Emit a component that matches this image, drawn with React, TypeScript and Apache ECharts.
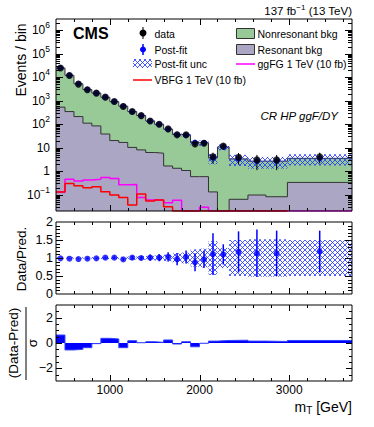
import React, { useEffect, useRef } from "react";
import * as echarts from "echarts";

const FONT = "'Liberation Sans', Arial, Helvetica, sans-serif";

// ---------- data ----------
const binEdges = [400, 500, 600, 700, 800, 900, 1000, 1100, 1200, 1300, 1400, 1500, 1600, 1700, 1800, 1900, 2000, 2100, 2200, 2330, 2540, 2740, 2980, 3700];
const dataCounts = [24400, 11800, 5060, 2890, 2090, 1410, 916, 560, 343, 231, 137, 99, 63, 35, 35, 14.4, 15.4, 4.1, 11.8, 3.9, 3.0, 3.0, 4.1];
const dataErr = [156, 109, 71, 54, 46, 38, 30, 24, 18.5, 15, 11.7, 10, 8, 6, 6, 3.8, 3.9, 2, 3.4, 2, 1.9, 1.9, 2];
const totalPred = [24600, 12000, 5200, 2950, 2110, 1400, 907, 583, 340, 231, 136, 98, 61, 36, 34, 16.4, 16, 3.7, 10.7, 3.3, 2.65, 2.65, 3.5];
const resonantBkg = [528, 343, 210, 110, 84, 38, 20, 16.6, 10.2, 8, 6.2, 5.8, 1.65, 1.32, 1.06, 0.58, 0.58, 0.13, 0, 0.063, 0.096, 0.081, 0.33];
const ggfSignal = [0.13, 0.45, 0.38, 0.42, 0.45, 0.54, 0.49, 0.26, 0.27, 0.076, 0.059, 0.059, 0.045, 0.058, 0, 0, 0.029, 0, 0, 0, 0, 0, 0];
const vbfSignal: (number | null)[] = [0.13, 0.3, 0.24, 0.196, 0.216, 0.132, 0.096, 0.076, 0.036, 0.106, 0.053, 0.059, 0.03, 0, 0, 0, 0, 0, 0, 0, 0, 0, null];
const predRelUnc = [0.02, 0.02, 0.02, 0.02, 0.025, 0.03, 0.03, 0.035, 0.045, 0.05, 0.06, 0.07, 0.09, 0.13, 0.15, 0.24, 0.26, 0.47, 0.28, 0.5, 0.52, 0.52, 0.5];
const ratioValues = [0.99, 0.98, 0.97, 0.98, 0.99, 1.01, 1.01, 0.96, 1.01, 1.0, 1.01, 1.01, 1.03, 0.97, 1.03, 0.88, 0.96, 1.11, 1.1, 1.17, 1.13, 1.13, 1.18];
const ratioErr = [0.008, 0.01, 0.014, 0.018, 0.022, 0.027, 0.033, 0.04, 0.055, 0.065, 0.085, 0.1, 0.13, 0.17, 0.18, 0.25, 0.24, 0.58, 0.28, 0.57, 0.66, 0.63, 0.58];
const pullValues = [0.63, -0.55, -0.5, -0.37, -0.05, 0.37, 0.32, -0.37, 0.18, 0.02, 0.1, 0.05, 0.24, -0.08, 0.1, -0.3, -0.02, 0.15, 0.2, 0.22, 0.15, 0.12, 0.2];

// tick labels
const xTickLabels = [1000, 2000, 3000];
const mainYTickExps = [-1, 0, 1, 2, 3, 4, 5, 6];
const ratioTickLabels = [0, 0.5, 1, 1.5, 2];
const pullTickLabels = [-2, 0, 2];

const X_MIN = 400;
const X_MAX = 3700;
const LOG_MIN = Math.log10(0.02);
const LOG_MAX = Math.log10(3e6);

const GREEN = "#98ca98";
const PURPLE = "#aaa6c3";
const OUTLINE = "#333333";

const lg = (v: number) => (v > 0 ? Math.log10(v) : LOG_MIN);

function stepPts(vals: (number | null)[], f: (v: number) => number) {
  const pts: number[][] = [];
  vals.forEach((v, i) => {
    if (v == null) return;
    pts.push([binEdges[i], f(v)], [binEdges[i + 1], f(v)]);
  });
  return pts;
}

const HATCH = 5;
function makeHatch() {
  const c = document.createElement("canvas");
  c.width = HATCH;
  c.height = HATCH;
  const ctx = c.getContext("2d")!;
  ctx.fillStyle = "rgba(30,50,255,0.8)";
  for (let i = 0; i < HATCH; i++) {
    ctx.fillRect(i, i, 1, 1);
    ctx.fillRect(HATCH - 1 - i, i, 1, 1);
  }
  return c;
}

function ticksSeries(gi: number, items: number[][], xLens: number[], yLens: number[]) {
  return {
    type: "custom",
    xAxisIndex: gi,
    yAxisIndex: gi,
    z: 20,
    silent: true,
    data: items,
    renderItem: (params: any, api: any) => {
      const cs = params.coordSys;
      const kind = api.value(2);
      const p = api.coord([api.value(0), api.value(1)]);
      const st = { stroke: "#000", lineWidth: 1 };
      if (kind < 2) {
        const len = kind === 0 ? xLens[0] : xLens[1];
        const x = Math.round(p[0]) + 0.5;
        return {
          type: "group",
          children: [
            { type: "line", shape: { x1: x, y1: cs.y + cs.height, x2: x, y2: cs.y + cs.height - len }, style: st },
            { type: "line", shape: { x1: x, y1: cs.y, x2: x, y2: cs.y + len }, style: st },
          ],
        };
      }
      const len = kind === 2 ? yLens[0] : yLens[1];
      const y = Math.round(p[1]) + 0.5;
      return {
        type: "group",
        children: [
          { type: "line", shape: { x1: cs.x, y1: y, x2: cs.x + len, y2: y }, style: st },
          { type: "line", shape: { x1: cs.x + cs.width, y1: y, x2: cs.x + cs.width - len, y2: y }, style: st },
        ],
      };
    },
  };
}

function labelSeries(gi: number, items: number[][], texts: string[], side: "x" | "y", offset: number, size: number, rich?: any) {
  return {
    type: "custom",
    xAxisIndex: gi,
    yAxisIndex: gi,
    z: 20,
    silent: true,
    data: items,
    renderItem: (params: any, api: any) => {
      const cs = params.coordSys;
      const p = api.coord([api.value(0), api.value(1)]);
      const t = texts[params.dataIndex];
      if (side === "x") {
        return {
          type: "text",
          x: p[0],
          y: cs.y + cs.height + offset,
          style: { text: t, fill: "#000", fontSize: size, fontFamily: FONT, align: "center", verticalAlign: "middle", textAlign: "center", textVerticalAlign: "middle" },
        };
      }
      return {
        type: "text",
        x: cs.x - offset,
        y: p[1],
        style: { text: t, fill: "#000", fontSize: size, fontFamily: FONT, align: "right", verticalAlign: "middle", textAlign: "right", textVerticalAlign: "middle", rich },
      };
    },
  };
}

function errSeries(gi: number, items: number[][], color: string, width: number, z: number) {
  return {
    type: "custom",
    xAxisIndex: gi,
    yAxisIndex: gi,
    z,
    silent: true,
    data: items,
    renderItem: (params: any, api: any) => {
      const a = api.coord([api.value(0), api.value(1)]);
      const b = api.coord([api.value(0), api.value(2)]);
      return { type: "line", shape: { x1: a[0], y1: a[1], x2: b[0], y2: b[1] }, style: { stroke: color, lineWidth: width } };
    },
  };
}

function bandSeries(gi: number, items: number[][], fill: any, z: number) {
  return {
    type: "custom",
    xAxisIndex: gi,
    yAxisIndex: gi,
    z,
    silent: true,
    data: items,
    renderItem: (params: any, api: any) => {
      const p0 = api.coord([api.value(0), api.value(3)]);
      const p1 = api.coord([api.value(1), api.value(2)]);
      return { type: "rect", shape: { x: p0[0], y: p0[1], width: p1[0] - p0[0], height: p1[1] - p0[1] }, style: { fill } };
    },
  };
}

function buildOption() {
  const hatchCanvas = makeHatch();
  const hatch = { image: hatchCanvas, repeat: "repeat", imageWidth: HATCH, imageHeight: HATCH };

  const centers = dataCounts.map((_, i) => (binEdges[i] + binEdges[i + 1]) / 2);

  // tick definitions
  const xTicks: number[][] = [];
  for (let v = 600; v < X_MAX; v += 200) xTicks.push([v, v % 1000 === 0 ? 0 : 1]);

  const mainTicks: number[][] = xTicks.map(([v, k]) => [v, LOG_MIN, k]);
  for (let n = -2; n <= 6; n++) {
    for (let k = 1; k <= 9; k++) {
      const v = Math.log10(k) + n;
      if (v > LOG_MIN && v < LOG_MAX) mainTicks.push([X_MIN, v, k === 1 ? 2 : 3]);
    }
  }
  const ratioTicks: number[][] = xTicks.map(([v, k]) => [v, 0, k]);
  for (let i = 1; i < 20; i++) ratioTicks.push([X_MIN, i * 0.1, i % 5 === 0 ? 2 : 3]);
  const pullTicks: number[][] = xTicks.map(([v, k]) => [v, -3, k]);
  for (let i = -5; i <= 5; i++) pullTicks.push([X_MIN, i * 0.5, i % 4 === 0 ? 2 : 3]);

  const supRich = {
    b: { fontSize: 12, fontFamily: FONT, fill: "#000" },
    s: { fontSize: 8.5, fontFamily: FONT, fill: "#000", padding: [0, 0, 10, 0] },
  };
  const mainYTexts = mainYTickExps.map((e) => (e === 0 ? "{b|1}" : e === 1 ? "{b|10}" : `{b|10}{s|${e < 0 ? "\u2212" + -e : e}}`));

  const hiddenAxis = { axisLine: { show: false }, axisTick: { show: false }, axisLabel: { show: false }, splitLine: { show: false } };
  const gridBase = { left: 56, width: 296, show: true, borderColor: "#000", borderWidth: 1, backgroundColor: "rgba(0,0,0,0)", z: 10 };

  const txt = (text: string, x: number, y: number, size: number, extra: any = {}) => ({
    type: "text",
    x,
    y,
    z: 50,
    style: { text, fill: "#000", fontSize: size, fontFamily: FONT, align: "left", verticalAlign: "middle", textAlign: "left", textVerticalAlign: "middle", ...extra },
  });

  return {
    animation: false,
    grid: [
      { ...gridBase, top: 19, height: 192 },
      { ...gridBase, top: 222, height: 72 },
      { ...gridBase, top: 305, height: 76 },
    ],
    xAxis: [0, 1, 2].map((i) => ({ type: "value", gridIndex: i, min: X_MIN, max: X_MAX, ...hiddenAxis })),
    yAxis: [
      { type: "value", gridIndex: 0, min: LOG_MIN, max: LOG_MAX, ...hiddenAxis },
      { type: "value", gridIndex: 1, min: 0, max: 2, ...hiddenAxis },
      { type: "value", gridIndex: 2, min: -3, max: 3, ...hiddenAxis },
    ],
    series: [
      {
        type: "line",
        xAxisIndex: 0,
        yAxisIndex: 0,
        data: stepPts(totalPred, lg),
        symbol: "none",
        z: 1,
        lineStyle: { color: OUTLINE, width: 1 },
        areaStyle: { color: GREEN, opacity: 1, origin: "start" },
      },
      {
        type: "line",
        xAxisIndex: 0,
        yAxisIndex: 0,
        data: stepPts(resonantBkg, lg),
        symbol: "none",
        z: 2,
        lineStyle: { color: OUTLINE, width: 1 },
        areaStyle: { color: PURPLE, opacity: 1, origin: "start" },
      },
      {
        type: "line",
        xAxisIndex: 0,
        yAxisIndex: 0,
        data: stepPts(ggfSignal, lg),
        symbol: "none",
        z: 3,
        lineStyle: { color: "#ff00ff", width: 1.5 },
      },
      {
        type: "line",
        xAxisIndex: 0,
        yAxisIndex: 0,
        data: stepPts(vbfSignal, lg),
        symbol: "none",
        z: 4,
        lineStyle: { color: "#ff0000", width: 1.5 },
      },
      bandSeries(
        0,
        totalPred.map((t, i) => [binEdges[i], binEdges[i + 1], lg(t * (1 - predRelUnc[i])), lg(t * (1 + predRelUnc[i]))]),
        hatch,
        5
      ),
      {
        type: "scatter",
        xAxisIndex: 0,
        yAxisIndex: 0,
        z: 6,
        symbolSize: 6,
        itemStyle: { color: "#0000ff" },
        data: totalPred.map((t, i) => [centers[i], lg(t)]),
      },
      errSeries(0, dataCounts.map((n, i) => [centers[i], lg(n - dataErr[i]), lg(n + dataErr[i])]), "#000", 1, 7),
      {
        type: "scatter",
        xAxisIndex: 0,
        yAxisIndex: 0,
        z: 8,
        symbolSize: 7,
        itemStyle: { color: "#000" },
        data: dataCounts.map((n, i) => [centers[i], lg(n)]),
      },
      // ratio panel
      bandSeries(1, predRelUnc.map((u, i) => [binEdges[i], binEdges[i + 1], 1 - u, 1 + u]), hatch, 5),
      errSeries(1, ratioValues.map((r, i) => [centers[i], r - ratioErr[i], r + ratioErr[i]]), "#0000ff", 1.5, 7),
      {
        type: "scatter",
        xAxisIndex: 1,
        yAxisIndex: 1,
        z: 8,
        symbolSize: 6,
        itemStyle: { color: "#0000ff" },
        data: ratioValues.map((r, i) => [centers[i], r]),
      },
      // pull panel
      {
        type: "line",
        xAxisIndex: 2,
        yAxisIndex: 2,
        data: stepPts(pullValues, (v) => v),
        symbol: "none",
        z: 3,
        lineStyle: { color: "#3344ff", width: 1 },
        areaStyle: { color: "#0000ff", opacity: 1, origin: "auto" },
      },
      // ticks
      ticksSeries(0, mainTicks, [6, 3], [7, 4]),
      ticksSeries(1, ratioTicks, [6, 3], [7, 4]),
      ticksSeries(2, pullTicks, [6, 3], [6, 3]),
      // labels
      labelSeries(0, mainYTickExps.map((e) => [X_MIN, e]), mainYTexts, "y", 6, 12, supRich),
      labelSeries(1, ratioTickLabels.map((v) => [X_MIN, v]), ratioTickLabels.map((v) => String(v)), "y", 3, 12.5),
      labelSeries(2, pullTickLabels.map((v) => [X_MIN, v]), pullTickLabels.map((v) => (v < 0 ? "\u2212" + -v : String(v))), "y", 3, 12.5),
      labelSeries(2, xTickLabels.map((v) => [v, -3]), xTickLabels.map((v) => String(v)), "x", 9, 12),
    ],
    graphic: [
      // header texts
      {
        type: "text",
        x: 352,
        y: 11,
        z: 50,
        style: {
          text: "{a|137 fb}{s|\u22121}{a| (13 TeV)}",
          align: "right",
          verticalAlign: "middle",
          textAlign: "right",
          textVerticalAlign: "middle",
          rich: {
            a: { fontSize: 11.5, fontFamily: FONT, fill: "#000" },
            s: { fontSize: 8, fontFamily: FONT, fill: "#000", padding: [0, 0, 8, 0] },
          },
        },
      },
      txt("CMS", 73, 33, 16, { fontWeight: "bold" }),
      txt("CR HP ggF/DY", 338, 116, 11.5, { fontStyle: "italic", align: "right", textAlign: "right" }),
      // axis titles
      { ...txt("Events / bin", 21, 60, 14, { align: "center", textAlign: "center" }), rotation: Math.PI / 2 },
      { ...txt("Data/Pred.", 21.5, 259, 13.5, { align: "center", textAlign: "center" }), rotation: Math.PI / 2 },
      { ...txt("(Data-Pred)", 13.5, 343, 13.5, { align: "center", textAlign: "center" }), rotation: Math.PI / 2 },
      { type: "line", z: 50, shape: { x1: 26, y1: 307, x2: 26, y2: 380 }, style: { stroke: "#000", lineWidth: 1 } },
      { ...txt("\u03c3", 32, 343, 13.5, { align: "center", textAlign: "center" }), rotation: Math.PI / 2 },
      {
        type: "text",
        x: 352,
        y: 407,
        z: 50,
        style: {
          text: "{a|m}{b|T}{a| [GeV]}",
          align: "right",
          verticalAlign: "middle",
          textAlign: "right",
          textVerticalAlign: "middle",
          rich: {
            a: { fontSize: 14, fontFamily: FONT, fill: "#000" },
            b: { fontSize: 10, fontFamily: FONT, fill: "#000", padding: [7, 0, 0, 0] },
          },
        },
      },
      // legend, left column
      { type: "line", z: 50, shape: { x1: 143, y1: 27, x2: 143, y2: 39 }, style: { stroke: "#000", lineWidth: 1 } },
      { type: "circle", z: 50, shape: { cx: 143, cy: 33, r: 3.5 }, style: { fill: "#000" } },
      txt("data", 154.5, 33.5, 10.5),
      { type: "line", z: 50, shape: { x1: 143, y1: 44, x2: 143, y2: 55 }, style: { stroke: "#0000ff", lineWidth: 1.5 } },
      { type: "circle", z: 50, shape: { cx: 143, cy: 49.5, r: 3 }, style: { fill: "#0000ff" } },
      txt("Post-fit", 154.5, 49.5, 10.5),
      { type: "rect", z: 50, shape: { x: 133, y: 59, width: 19, height: 9 }, style: { fill: hatch } },
      txt("Post-fit unc", 154.5, 63.5, 10.5),
      { type: "line", z: 50, shape: { x1: 133, y1: 80, x2: 152, y2: 80 }, style: { stroke: "#ff0000", lineWidth: 1.5 } },
      txt("VBFG 1 TeV (10 fb)", 154.5, 80, 10.5),
      // legend, right column
      { type: "rect", z: 50, shape: { x: 236.5, y: 28.5, width: 18, height: 10 }, style: { fill: GREEN, stroke: OUTLINE, lineWidth: 1 } },
      txt("Nonresonant bkg", 257.5, 33.5, 10.5),
      { type: "rect", z: 50, shape: { x: 236.5, y: 44.5, width: 18, height: 10 }, style: { fill: PURPLE, stroke: OUTLINE, lineWidth: 1 } },
      txt("Resonant bkg", 257.5, 49.5, 10.5),
      { type: "line", z: 50, shape: { x1: 236, y1: 64, x2: 255, y2: 64 }, style: { stroke: "#ff00ff", lineWidth: 1.5 } },
      txt("ggFG 1 TeV (10 fb)", 257.5, 63.5, 10.5),
    ],
  };
}

export default function App() {
  const ref = useRef<HTMLDivElement>(null);
  useEffect(() => {
    if (!ref.current) return;
    const chart = echarts.init(ref.current, undefined, { renderer: "svg" });
    chart.setOption(buildOption() as any);
    return () => {
      chart.dispose();
    };
  }, []);
  return <div ref={ref} style={{ position: "absolute", left: 0, top: 0, width: 374, height: 427 }} />;
}
